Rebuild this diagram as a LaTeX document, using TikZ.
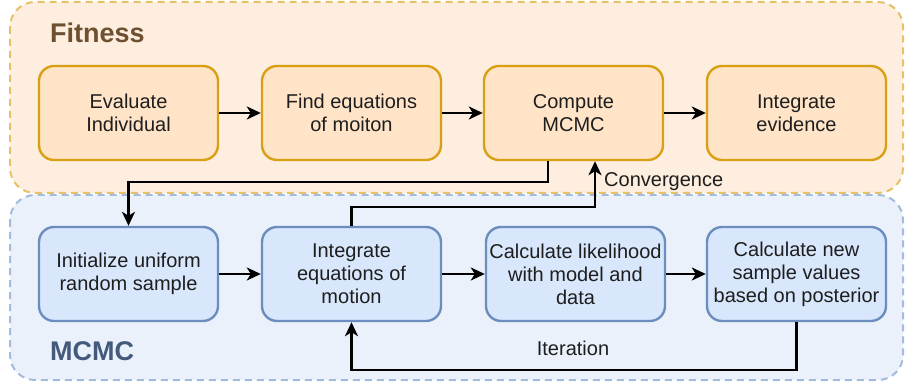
\documentclass[tikz,border=0pt]{standalone}
\usepackage{fontspec}
\setmainfont{Liberation Sans}
\usetikzlibrary{arrows.meta}
\definecolor{fitfill}{HTML}{FDEEDF}
\definecolor{fitline}{HTML}{E6C16A}
\definecolor{mcfill}{HTML}{EAF1FB}
\definecolor{mcline}{HTML}{A3BBDC}
\definecolor{obox}{HTML}{FFE4C8}
\definecolor{oline}{HTML}{D9A014}
\definecolor{bbox}{HTML}{D8E7FB}
\definecolor{bline}{HTML}{6C8EBF}
\definecolor{fittext}{HTML}{6E5030}
\definecolor{mctext}{HTML}{435A7C}
\definecolor{txt}{HTML}{1E1E1E}
\tikzset{
  group/.style={dashed, dash pattern=on 7pt off 5pt, line width=2pt, rounded corners=25pt},
  stagebox/.style={rounded corners=15pt, line width=2.4pt, minimum width=179pt, minimum height=94pt,
    align=center, text=txt, font=\fontsize{20}{23}\selectfont, inner sep=0pt},
  fitbox/.style={stagebox, fill=obox, draw=oline},
  mcbox/.style={stagebox, fill=bbox, draw=bline},
  flow/.style={line width=2.3pt, -{Stealth[length=14pt,width=13pt,inset=4pt]}},
  lbl/.style={text=txt, font=\fontsize{20}{23}\selectfont, inner sep=0pt}
}
\begin{document}
\begin{tikzpicture}[x=1pt,y=-1pt]
\useasboundingbox (0,0) rectangle (905,382);
% group frames
\draw[group, fill=mcfill, draw=mcline] (10,195) rectangle (903,380);
\draw[group, fill=fitfill, draw=fitline] (10,2) rectangle (903,193);
\node[anchor=west, text=fittext, font=\fontsize{27}{30}\selectfont\bfseries, inner sep=0pt] (fitlbl) at (50,33) {Fitness};
\node[anchor=west, text=mctext, font=\fontsize{27}{30}\selectfont\bfseries, inner sep=0pt] (mclbl) at (50,351) {MCMC};
% fitness stages
\node[fitbox] (eval) at (128.5,113) {Evaluate\\Individual};
\node[fitbox] (find) at (351.5,113) {Find equations\\of moiton};
\node[fitbox] (comp) at (573.5,113) {Compute\\MCMC};
\node[fitbox] (intev) at (796.5,113) {Integrate\\evidence};
% MCMC stages
\node[mcbox] (init) at (128.5,274) {Initialize uniform\\random sample};
\node[mcbox] (integ) at (351.5,274) {Integrate\\equations of\\motion};
\node[mcbox] (like) at (575.5,274) {Calculate likelihood\\with model and\\data};
\node[mcbox] (newv) at (796.5,274) {Calculate new\\sample values\\based on posterior};
% connectors
\draw[flow] (eval) -- (find);
\draw[flow] (find) -- (comp);
\draw[flow] (comp) -- (intev);
\draw[flow] (init) -- (integ);
\draw[flow] (integ) -- (like);
\draw[flow] (like) -- (newv);
\draw[flow] (comp.south -| 548,0) |- (128.5,182) -- (init.north);
\coordinate (convx) at (595,160);
\draw[flow] (integ.north) |- (595,207) -- (comp.south -| convx);
\node[lbl, anchor=west] (conv) at (604,182) {Convergence};
\draw[flow] (newv.south) |- (351.5,370) -- (integ.south);
\node[lbl] (iter) at (573,348) {Iteration};
\end{tikzpicture}
\end{document}
